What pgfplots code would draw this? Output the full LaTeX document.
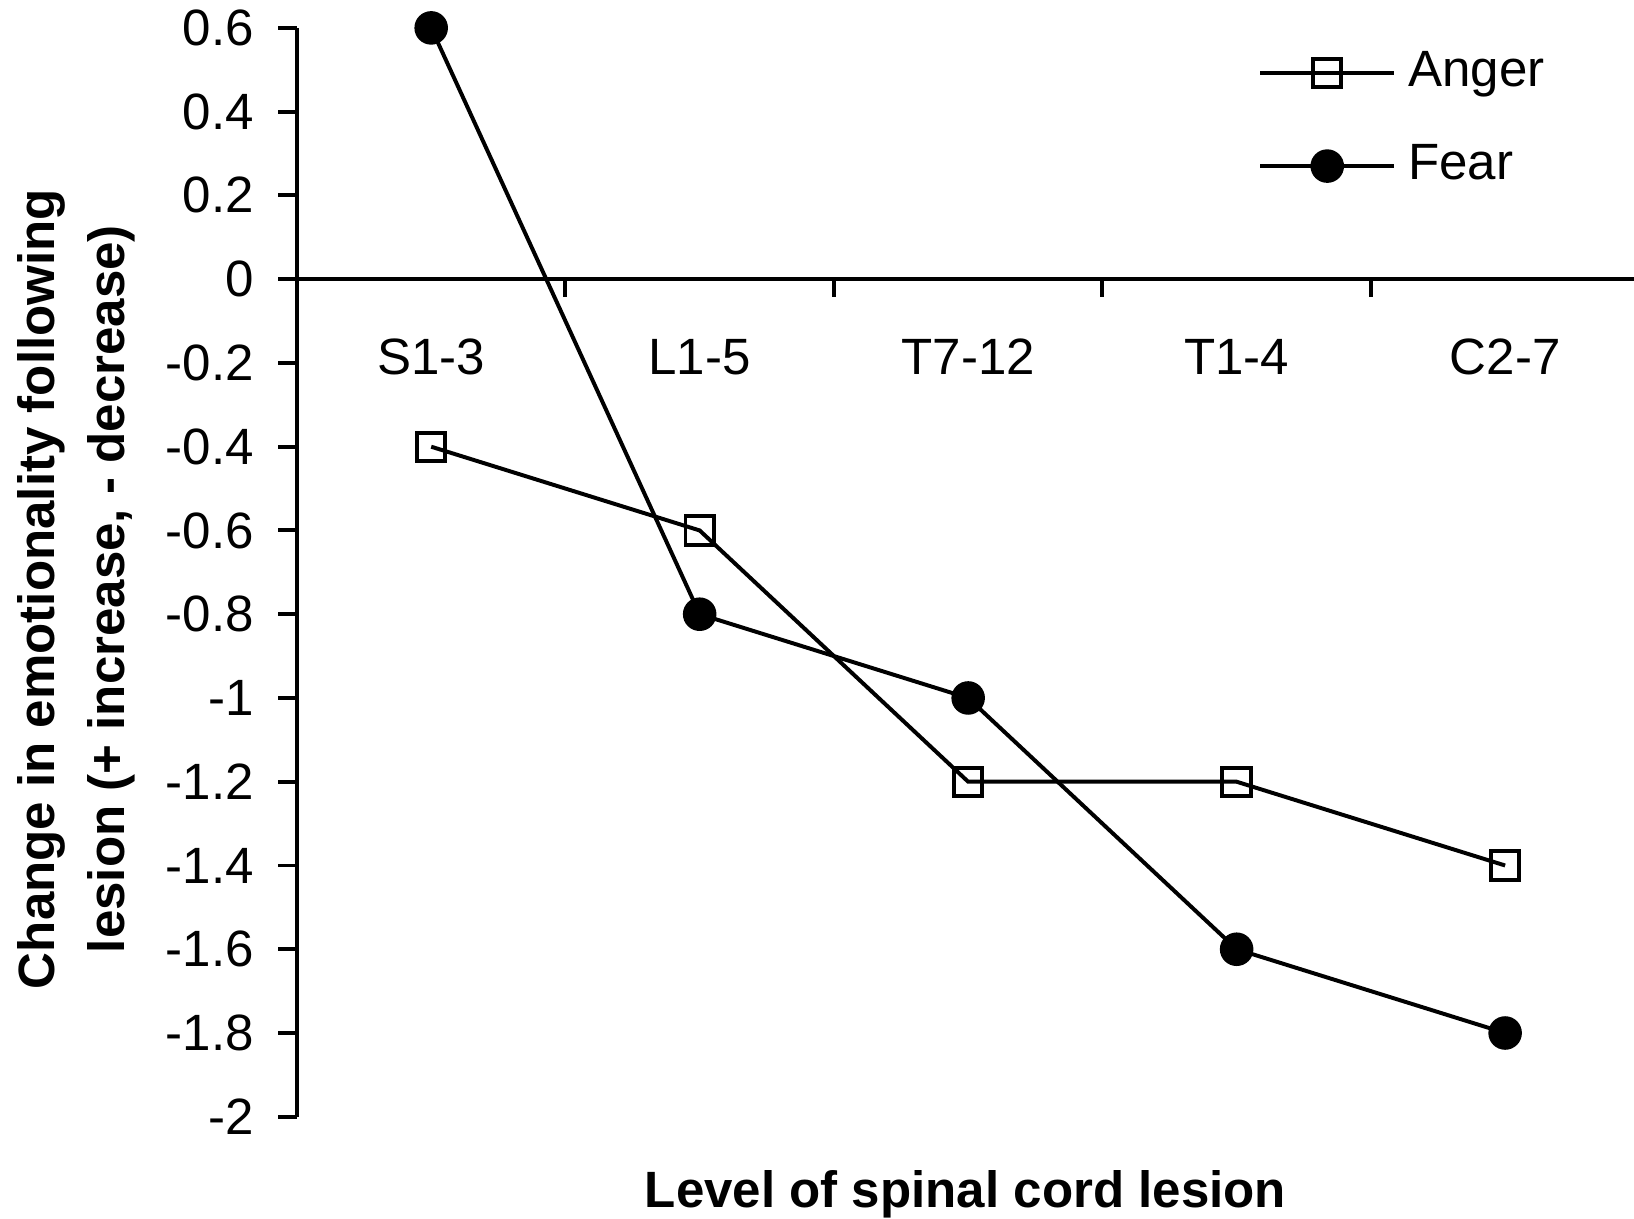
\documentclass[border=0pt]{standalone}
\usepackage{pgfplots}
\pgfplotsset{compat=1.18}
\usepackage{fontspec}
\setmainfont{Liberation Sans}
\begin{document}
\fontsize{24.5}{29}\selectfont
\begin{tikzpicture}
\begin{axis}[
    scale only axis, width=641.6pt, height=522.5pt,
    xmin=-0.5, xmax=4.48, ymin=-2, ymax=0.6,
    axis x line=middle, axis y line=left,
    axis line style={-, line width=1.9pt},
    every tick/.style={black, line width=1.9pt},
    xtick={0,1,2,3,4}, xticklabels={S1-3,L1-5,T7-12,T1-4,C2-7},
    major x tick style={draw=none},
    minor xtick={0.5,1.5,2.5,3.5},
    xtick align=outside, ytick align=outside,
    major tick length=9pt, minor tick length=8.5pt,
    xticklabel style={yshift=-11.5pt},
    yticklabel style={xshift=-3.3pt},
    ytick={-2,-1.8,-1.6,-1.4,-1.2,-1,-0.8,-0.6,-0.4,-0.2,0,0.2,0.4,0.6},
    yticklabels={-2,-1.8,-1.6,-1.4,-1.2,-1,-0.8,-0.6,-0.4,-0.2,0,0.2,0.4,0.6},
    ylabel={Change in emotionality following\\lesion (+ increase, - decrease)},
    ylabel style={at={(axis cs:-1.1,-0.74)}, anchor=south, inner sep=0pt, align=center,
        font=\bfseries\fontsize{24.5}{33.6}\selectfont},
    xlabel={Level of spinal cord lesion},
    xlabel style={at={(rel axis cs:0.5,0)}, anchor=base, yshift=-43.7pt, font=\bfseries},
    clip=false,
    legend style={draw=none, fill=none, inner sep=0pt, at={(axis cs:3.079,0.381)}, anchor=west,
        nodes={inner sep=0pt, text height=18pt, text depth=5pt}, row sep=21.6pt,
        /tikz/every odd column/.append style={column sep=5.8pt}},
    legend cell align=left,
    legend image code/.code={\draw[mark repeat=2,mark phase=2,#1] plot coordinates {(0pt,0pt)(32.15pt,0pt)(64.3pt,0pt)};},
]
\addplot[black, line width=1.9pt, mark=square, mark size=6.8pt, mark options={solid, fill=white, line width=1.9pt}]
    coordinates {(0,-0.4)(1,-0.6)(2,-1.2)(3,-1.2)(4,-1.4)};
\addlegendentry{Anger}
\addplot[black, line width=1.9pt, mark=*, mark size=7.1pt, mark options={solid, fill=black}]
    coordinates {(0,0.6)(1,-0.8)(2,-1.0)(3,-1.6)(4,-1.8)};
\addlegendentry{Fear}
\coordinate (bl) at (rel axis cs:0,0);
\coordinate (tr) at (rel axis cs:1,1);
\end{axis}
\pgfresetboundingbox
\path[use as bounding box] ([xshift=-142.5pt,yshift=-48.9pt]bl) rectangle ([yshift=13.4pt]tr);
\end{tikzpicture}
\end{document}
